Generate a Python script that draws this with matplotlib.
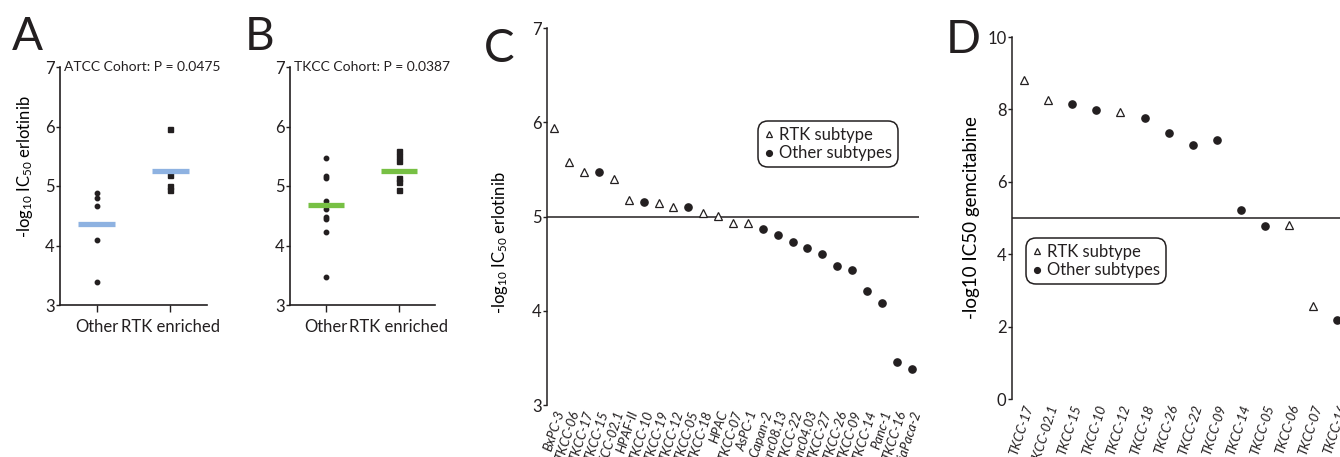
import numpy as np
import matplotlib
matplotlib.use('Agg')
import matplotlib.pyplot as plt

plt.rcParams['font.family'] = ['Lato', 'DejaVu Sans']
plt.rcParams['text.color'] = '#231f20'
plt.rcParams['axes.edgecolor'] = '#231f20'
plt.rcParams['xtick.color'] = '#231f20'
plt.rcParams['ytick.color'] = '#231f20'
plt.rcParams['mathtext.default'] = 'regular'

# Panel A: ATCC cohort
A_OTHER = [4.88, 4.79, 4.66, 4.09, 3.38]
A_ENRICHED = [5.95, 5.18, 5.00, 4.93]
A_BARS = [4.36, 5.26]
# Panel B: TKCC cohort
B_OTHER = [5.47, 5.17, 5.13, 4.74, 4.70, 4.61, 4.48, 4.44, 4.22, 3.47]
B_ENRICHED = [5.58, 5.50, 5.42, 5.13, 5.06, 4.93]
B_BARS = [4.68, 5.26]
GROUPS = ['Other', 'RTK enriched']

# Panel C: erlotinib per cell line
C_LINES = ['BxPC-3', 'TKCC-06', 'TKCC-17', 'TKCC-15', 'TKCC-02.1', 'HPAF-II', 'TKCC-10',
           'TKCC-19', 'TKCC-12', 'TKCC-05', 'TKCC-18', 'HPAC', 'TKCC-07', 'AsPC-1',
           'Capan-2', 'Panc08.13', 'TKCC-22', 'Panc04.03', 'TKCC-27', 'TKCC-26',
           'TKCC-09', 'TKCC-14', 'Panc-1', 'TKCC-16', 'MiaPaca-2']
C_VALUES = [5.94, 5.58, 5.47, 5.47, 5.40, 5.17, 5.15, 5.14, 5.10, 5.10, 5.04, 5.01, 4.93,
            4.93, 4.87, 4.80, 4.73, 4.67, 4.60, 4.47, 4.43, 4.21, 4.08, 3.46, 3.38]
C_RTK = [1, 1, 1, 0, 1, 1, 0, 1, 1, 0, 1, 1, 1, 1, 0, 0, 0, 0, 0, 0, 0, 0, 0, 0, 0]

# Panel D: gemcitabine per cell line
D_LINES = ['TKCC-17', 'TKCC-02.1', 'TKCC-15', 'TKCC-10', 'TKCC-12', 'TKCC-18', 'TKCC-26',
           'TKCC-22', 'TKCC-09', 'TKCC-14', 'TKCC-05', 'TKCC-06', 'TKCC-07', 'TKCC-16']
D_VALUES = [8.82, 8.27, 8.15, 7.99, 7.92, 7.75, 7.35, 7.01, 7.16, 5.21, 4.79, 4.81, 2.56, 2.17]
D_RTK = [1, 1, 0, 0, 1, 0, 0, 0, 0, 0, 0, 1, 1, 0]

W, H = 1340, 457
fig = plt.figure(figsize=(W / 100, H / 100), dpi=100)


def box(l, t, r, b):
    return [l / W, 1 - b / H, (r - l) / W, (b - t) / H]


def cohort(ax, other, enriched, bars, color, title):
    ax.plot(np.zeros(len(other)), other, 'o', color='#231f20', ms=3.2, clip_on=False)
    ax.plot(np.ones(len(enriched)), enriched, 's', color='#231f20', ms=3.6, clip_on=False)
    ax.hlines(bars, np.arange(2) - 0.25, np.arange(2) + 0.25, colors=color, lw=3.8, zorder=3)
    ax.set_xlim(-0.5, 1.5)
    ax.set_ylim(3, 7)
    ax.set_yticks([3, 4, 5, 6, 7])
    ax.set_xticks([0, 1])
    ax.set_xticklabels(GROUPS, fontsize=12)
    ax.tick_params(axis='y', length=3, width=1, labelsize=12, pad=1)
    ax.tick_params(axis='x', length=5, width=1, pad=5)
    for s in ['top', 'right']:
        ax.spines[s].set_visible(False)
    for s in ['left', 'bottom']:
        ax.spines[s].set_linewidth(1.2)
    ax.text(0.03, 1.0, title, transform=ax.transAxes, fontsize=10, va='center', ha='left')


axA = fig.add_axes(box(60, 67, 207, 305))
cohort(axA, A_OTHER, A_ENRICHED, A_BARS, '#8eb2e1', 'ATCC Cohort: P = 0.0475')
axA.set_ylabel('-log$_{10}$ IC$_{50}$ erlotinib', fontsize=12)
axA.yaxis.set_label_coords(-0.17, 0.58)

axB = fig.add_axes(box(290, 67, 435, 305))
cohort(axB, B_OTHER, B_ENRICHED, B_BARS, '#77c044', 'TKCC Cohort: P = 0.0387')


def waterfall(ax, names, values, rtk, xright):
    x = np.arange(len(names))
    rtk = np.array(rtk, dtype=bool)
    vals = np.array(values)
    ax.axhline(5, color='#231f20', lw=1.1, zorder=1)
    ax.plot(x[rtk], vals[rtk], '^', mfc='white', mec='#231f20', mew=0.9, ms=6,
            ls='none', label='RTK subtype', zorder=3)
    ax.plot(x[~rtk], vals[~rtk], 'o', color='#231f20', ms=5.2, ls='none',
            label='Other subtypes', zorder=3)
    ax.set_xlim(-0.5, xright)
    ax.set_xticks(x)
    ax.set_xticklabels(names, rotation=72, ha='right', va='top', rotation_mode='anchor',
                       fontsize=9.5, style='italic',
                       family=['Liberation Sans Narrow', 'Lato', 'DejaVu Sans'])
    ax.tick_params(axis='x', length=0, pad=3)
    ax.tick_params(axis='y', length=3, width=1, labelsize=12, pad=1)
    for s in ['top', 'right', 'bottom']:
        ax.spines[s].set_visible(False)
    ax.spines['left'].set_linewidth(1.1)


axC = fig.add_axes(box(547, 28, 919, 405))
waterfall(axC, C_LINES, C_VALUES, C_RTK, 24.5)
axC.set_ylim(3, 7)
axC.set_yticks([3, 4, 5, 6, 7])
axC.set_ylabel('-log$_{10}$ IC$_{50}$ erlotinib', fontsize=12)
axC.yaxis.set_label_coords(-0.1, 0.43)

axD = fig.add_axes(box(1012, 37, 1340, 399))
waterfall(axD, D_LINES, D_VALUES, D_RTK, 13.11)
axD.set_ylim(0, 10)
axD.set_yticks([0, 2, 4, 6, 8, 10])
axD.set_ylabel('-log10 IC50 gemcitabine', fontsize=13.5)
axD.yaxis.set_label_coords(-0.098, 0.5)

legend_style = dict(loc='upper left', bbox_transform=fig.transFigure, borderaxespad=0,
                    fontsize=12, frameon=True, fancybox=True, edgecolor='#231f20',
                    framealpha=1, handlelength=0.6, handletextpad=0.3, labelspacing=0.15,
                    borderpad=0.35, markerscale=0.8)
legC = axC.legend(bbox_to_anchor=(758 / W, 1 - 121 / H), **legend_style)
legD = axD.legend(bbox_to_anchor=(1026 / W, 1 - 238 / H), **legend_style)
for leg in (legC, legD):
    leg.get_frame().set_linewidth(1.1)
    leg.get_frame().set_boxstyle('round,pad=0,rounding_size=0.6')

for letter, x, y in [('A', 12, 50), ('B', 245, 50), ('C', 484, 62), ('D', 946, 53)]:
    fig.text(x / W, 1 - y / H, letter, fontsize=33, va='baseline', ha='left')

fig.savefig('out.png', dpi=100)
